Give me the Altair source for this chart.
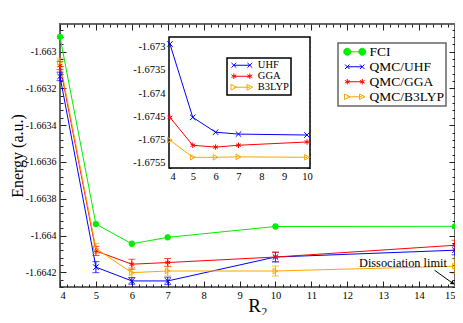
import altair as alt
import pandas as pd

# ---------------- data ----------------
series = ["FCI", "QMC/UHF", "QMC/GGA", "QMC/B3LYP"]
colors = ["#00ee00", "#0000ff", "#ff0000", "#ffa500"]

r2 = [4, 5, 6, 7, 10, 15]
fci = [-1.66292, -1.663938, -1.664045, -1.66401, -1.663951, -1.66395]
qmc_uhf = [-1.663135, -1.664172, -1.664247, -1.664247, -1.664117, -1.66408]
qmc_uhf_err = [0.000023, 0.00003, 0.000018, 0.00002, 0.000027, 0.000025]
qmc_gga = [-1.663076, -1.664084, -1.664156, -1.664147, -1.664117, -1.664053]
qmc_gga_err = [0.000022, 0.000025, 0.000027, 0.000022, 0.000025, 0.000027]
qmc_b3lyp = [-1.663058, -1.664071, -1.664202, -1.664193, -1.664193, -1.664167]
qmc_b3lyp_err = [0.000023, 0.000027, 0.000027, 0.000027, 0.000027, 0.00004]

inset_series = ["UHF", "GGA", "B3LYP"]
inset_colors = ["#0000ff", "#ff0000", "#ffa500"]
inset_r2 = [4, 5, 6, 7, 10]
uhf = [-1.67294, -1.67452, -1.67484, -1.67488, -1.67490]
gga = [-1.67452, -1.67512, -1.67516, -1.67512, -1.67505]
b3lyp = [-1.67501, -1.67538, -1.67538, -1.67537, -1.67538]

annot_text = ["Dissociation limit"]
annot_x = [13.55]
annot_y = [-1.66415]
arrow_from = (14.43, -1.664189)
arrow_to = (14.94, -1.66426)

main_x_major = list(range(4, 16))
main_x_minor = [round(4 + 0.2 * i, 1) for i in range(56) if i % 5]
main_y_major = [round(-1.6642 + 0.0002 * i, 4) for i in range(7)]
main_y_minor = [round(-1.6644 + 0.00004 * i, 5) for i in range(45) if i % 5]
main_y_minor = [v for v in main_y_minor if -1.66428 <= v <= -1.66285]
inset_x_major = list(range(4, 11))
inset_x_minor = [4 + 0.5 * i for i in range(13) if i % 2]
inset_y_major = [round(-1.6755 + 0.0005 * i, 4) for i in range(6)]
inset_y_minor = [round(-1.6756 + 0.0001 * i, 4) for i in range(29) if (i - 1) % 5]
inset_y_minor = [v for v in inset_y_minor if -1.67561 <= v <= -1.67279]

# ---------------- style ----------------
FONT = "Liberation Serif"
W, H = 395, 263
MX_DOM = [4, 15]
MY_DOM = [-1.66428, -1.66285]
IX_DOM = [3.96, 10.13]
IY_DOM = [-1.67561, -1.67279]
IX_RANGE = [109, 250]
IY_RANGE = [144, 13]

MX = alt.Scale(domain=MX_DOM, nice=False, zero=False)
MY = alt.Scale(domain=MY_DOM, nice=False, zero=False)
IX = alt.Scale(domain=IX_DOM, range=IX_RANGE, nice=False, zero=False)
IY = alt.Scale(domain=IY_DOM, range=IY_RANGE, nice=False, zero=False)

NEG_LABEL = "'-' + format(-datum.value, '~g')"


def circ(cx, cy, r):
    return (f"M{cx + r},{cy}A{r},{r} 0 1,1 {cx - r},{cy}"
            f"A{r},{r} 0 1,1 {cx + r},{cy}Z")


def xmark(cx, r):
    return f"M{cx - r},{-r}L{cx + r},{r}M{cx - r},{r}L{cx + r},{-r}"


def star(cx, r):
    a = round(0.87 * r, 3)
    b = round(0.5 * r, 3)
    return (f"M{cx},{-r}L{cx},{r}M{cx - a},{-b}L{cx + a},{b}"
            f"M{cx - a},{b}L{cx + a},{-b}")


def tri(cx, r):
    return f"M{cx - r},{-r}L{cx + r},0L{cx - r},{r}Z"


def leg_path(kind, half, r):
    base = f"M{-half},0L{half},0"
    fn = {"c": lambda c: circ(c, 0, r), "x": lambda c: xmark(c, r),
          "s": lambda c: star(c, r), "t": lambda c: tri(c, r)}[kind]
    return base + fn(-half) + fn(half)


X_PATH = "M-1,-1L1,1M-1,1L1,-1"
STAR_PATH = "M0,-1L0,1M-0.87,-0.5L0.87,0.5M-0.87,0.5L0.87,-0.5"

# ---------------- main data ----------------
rows = []
for s, ys, es in [("FCI", fci, [0] * 6), ("QMC/UHF", qmc_uhf, qmc_uhf_err),
                  ("QMC/GGA", qmc_gga, qmc_gga_err), ("QMC/B3LYP", qmc_b3lyp, qmc_b3lyp_err)]:
    for x, y, e in zip(r2, ys, es):
        rows.append({"x": x, "y": y, "s": s, "lo": y - e, "hi": y + e})
df = pd.DataFrame(rows)
qmc = df[df.s != "FCI"]

C = alt.Color("s:N", scale=alt.Scale(domain=series, range=colors), legend=None)
MXe = alt.X("x:Q", scale=MX, axis=None)

lines = alt.Chart(df).mark_line(strokeWidth=1).encode(
    x=MXe, y=alt.Y("y:Q", scale=MY, axis=None), color=C, order="x:Q")
fci_pts = alt.Chart(df[df.s == "FCI"]).mark_circle(size=40, opacity=1).encode(
    x=MXe, y=alt.Y("y:Q", scale=MY, axis=None), color=C)
qmc_pts = alt.Chart(qmc).mark_point(filled=False, strokeWidth=1, size=30, opacity=1).encode(
    x=MXe, y=alt.Y("y:Q", scale=MY, axis=None), color=C,
    shape=alt.Shape("s:N", scale=alt.Scale(domain=series,
                    range=["circle", X_PATH, STAR_PATH, "triangle-right"]), legend=None))
err = alt.Chart(qmc).mark_rule(strokeWidth=1).encode(
    x=MXe, y=alt.Y("lo:Q", scale=MY, axis=None), y2="hi:Q", color=C)
cap_lo = alt.Chart(qmc).mark_tick(orient="horizontal", size=7, thickness=1).encode(
    x=MXe, y=alt.Y("lo:Q", scale=MY, axis=None), color=C)
cap_hi = alt.Chart(qmc).mark_tick(orient="horizontal", size=7, thickness=1).encode(
    x=MXe, y=alt.Y("hi:Q", scale=MY, axis=None), color=C)

ann = alt.Chart(pd.DataFrame({"x": annot_x, "y": annot_y, "t": annot_text})).mark_text(
    font=FONT, fontSize=12.3, color="black", align="center", baseline="middle").encode(
    x=MXe, y=alt.Y("y:Q", scale=MY, axis=None), text="t:N")
arr_df = pd.DataFrame({"x": [arrow_from[0]], "y": [arrow_from[1]],
                       "x2": [arrow_to[0]], "y2": [arrow_to[1]]})
arrow = alt.Chart(arr_df).mark_rule(color="black", strokeWidth=1).encode(
    x=MXe, y=alt.Y("y:Q", scale=MY, axis=None), x2="x2:Q", y2="y2:Q")
head = alt.Chart(arr_df).mark_point(shape="triangle-right", angle=35, filled=True,
                                    size=22, color="black", opacity=1).encode(
    x=alt.X("x2:Q", scale=MX, axis=None), y=alt.Y("y2:Q", scale=MY, axis=None))

main_layer = alt.layer(lines, err, cap_lo, cap_hi, fci_pts, qmc_pts, ann, arrow, head)

# ---------------- inset data ----------------
irows = []
for s, ys in [("UHF", uhf), ("GGA", gga), ("B3LYP", b3lyp)]:
    for x, y in zip(inset_r2, ys):
        irows.append({"x": x, "y": y, "s": s})
idf = pd.DataFrame(irows)
IC = alt.Color("s:N", scale=alt.Scale(domain=inset_series, range=inset_colors), legend=None)
IXe = alt.X("x:Q", scale=IX, axis=None)
IYe = alt.Y("y:Q", scale=IY, axis=None)

frame_df = pd.DataFrame({"x": [IX_DOM[0]], "x2": [IX_DOM[1]], "y": [IY_DOM[0]], "y2": [IY_DOM[1]]})
inset_bg = alt.Chart(frame_df).mark_rect(fill="white", stroke="black", strokeWidth=1.5).encode(
    x=IXe, x2="x2:Q", y=IYe, y2="y2:Q")
ilines = alt.Chart(idf).mark_line(strokeWidth=1).encode(x=IXe, y=IYe, color=IC, order="x:Q")
ipts = alt.Chart(idf).mark_point(filled=False, strokeWidth=1, size=30, opacity=1).encode(
    x=IXe, y=IYe, color=IC,
    shape=alt.Shape("s:N", scale=alt.Scale(domain=inset_series,
                    range=[X_PATH, STAR_PATH, "triangle-right"]), legend=None))
inset_layer = alt.layer(inset_bg, ilines, ipts)

# ---------------- axes (inward ticks) ----------------
axdf = pd.DataFrame({"x": [r2[0]], "y": [fci[0]], "ix": [inset_r2[0]], "iy": [uhf[0]]})


def axis(orient, values, ts, offset, color="#222", **kw):
    base = dict(orient=orient, values=values, tickSize=ts, offset=offset, domain=False,
                grid=False, labels=False, title=None, tickColor=color, tickWidth=1)
    base.update(kw)
    return alt.Axis(**base)


def axis_layer(xs, ys, xa, ya, inset=False):
    fx, fy = ("ix", "iy") if inset else ("x", "y")
    return alt.Chart(axdf).mark_point(opacity=0).encode(
        x=alt.X(f"{fx}:Q", scale=xs, axis=xa), y=alt.Y(f"{fy}:Q", scale=ys, axis=ya))


lab = dict(labels=True, labelFont=FONT, labelFontSize=10.5, labelColor="black",
           labelOverlap=False)
labm = dict(lab, labelFontSize=10)
A1 = axis_layer(MX, MY,
                axis("bottom", main_x_major, 6, -6, labelPadding=3, title="R₂",
                     titleFont=FONT, titleFontSize=19, titleFontWeight="normal",
                     titleColor="black", titleBaseline="alphabetic", titleY=30, **lab),
                axis("left", main_y_major, 6, -6, labelPadding=4, labelExpr=NEG_LABEL,
                     title="Energy (a.u.)", titleFont=FONT, titleFontSize=16,
                     titleFontWeight="normal", titleColor="black", titleX=-40.2, **labm))
A2 = axis_layer(MX, MY, axis("bottom", main_x_minor, 3, -3), axis("left", main_y_minor, 3, -3))
A3 = axis_layer(MX, MY, axis("top", main_x_major, 6, -6), axis("right", main_y_major, 6, -6))
A4 = axis_layer(MX, MY, axis("top", main_x_minor, 3, -3), axis("right", main_y_minor, 3, -3))

ib = H - IY_RANGE[0]   # distance from view bottom to inset bottom
il = IX_RANGE[0]
it = IY_RANGE[1]
ir = W - IX_RANGE[1]
B1 = axis_layer(IX, IY,
                axis("bottom", inset_x_major, 4, -(ib + 4), color="black", labelPadding=3, **lab),
                axis("left", inset_y_major, 4, -(il + 4), color="black", labelPadding=4,
                     labelExpr=NEG_LABEL, **lab), inset=True)
B2 = axis_layer(IX, IY, axis("bottom", inset_x_minor, 2, -(ib + 2), color="black"),
                axis("left", inset_y_minor, 2, -(il + 2), color="black"), inset=True)
B3 = axis_layer(IX, IY, axis("top", inset_x_major, 4, -(it + 4), color="black"),
                axis("right", inset_y_major, 4, -(ir + 4), color="black"), inset=True)
B4 = axis_layer(IX, IY, axis("top", inset_x_minor, 2, -(it + 2), color="black"),
                axis("right", inset_y_minor, 2, -(ir + 2), color="black"), inset=True)

# ---------------- legends ----------------
main_leg_paths = [leg_path("c", 1.5, 0.7), leg_path("x", 1.5, 0.45),
                  leg_path("s", 1.5, 0.55), leg_path("t", 1.5, 0.55)]
main_leg_fill = ["#00ee00", "transparent", "transparent", "white"]
ML = alt.Legend(title=None, orient="none", legendX=278, legendY=19, padding=2,
                symbolSize=100, symbolOffset=8, labelOffset=8, rowPadding=0,
                symbolStrokeWidth=1, labelFont=FONT, labelFontSize=13.5,
                labelColor="black", strokeColor="#666", fillColor="white")
leg_df = pd.DataFrame({"s": series})
main_leg = alt.Chart(leg_df).mark_point(filled=False, strokeWidth=1, opacity=1).transform_filter(
    "false").encode(
    stroke=alt.Stroke("s:N", scale=alt.Scale(domain=series, range=colors), legend=ML),
    fill=alt.Fill("s:N", scale=alt.Scale(domain=series, range=main_leg_fill), legend=ML),
    shape=alt.Shape("s:N", scale=alt.Scale(domain=series, range=main_leg_paths), legend=ML))

inset_leg_paths = [leg_path("x", 2, 0.6), leg_path("s", 2, 0.7), leg_path("t", 2, 0.7)]
inset_leg_fill = ["transparent", "transparent", "white"]
IL = alt.Legend(title=None, orient="none", legendX=167, legendY=34, padding=2,
                symbolSize=64, symbolOffset=7.6, labelOffset=10.7, rowPadding=-1.5,
                symbolStrokeWidth=1, labelFont=FONT, labelFontSize=10.5,
                labelColor="black", strokeColor="black", fillColor="white")
ileg_df = pd.DataFrame({"s": inset_series})
inset_leg = alt.Chart(ileg_df).mark_point(filled=False, strokeWidth=1, opacity=1).transform_filter(
    "false").encode(
    stroke=alt.Stroke("s:N", scale=alt.Scale(domain=inset_series, range=inset_colors), legend=IL),
    fill=alt.Fill("s:N", scale=alt.Scale(domain=inset_series, range=inset_leg_fill), legend=IL),
    shape=alt.Shape("s:N", scale=alt.Scale(domain=inset_series, range=inset_leg_paths), legend=IL))

chart = alt.layer(
    main_layer, A1, A2, A3, A4, inset_layer, B1, B2, B3, B4, main_leg, inset_leg
).resolve_scale(
    x="independent", y="independent", color="independent", fill="independent",
    shape="independent", stroke="independent"
).properties(
    width=W, height=H,
    autosize=alt.AutoSizeParams(type="none"),
    padding={"left": 52, "top": 16, "right": 0, "bottom": 28},
).configure_view(
    stroke="#666", strokeWidth=2
).configure_legend(
    strokeWidth=1.5
)

chart.save("out.html", embed_options={"renderer": "svg", "actions": False})
